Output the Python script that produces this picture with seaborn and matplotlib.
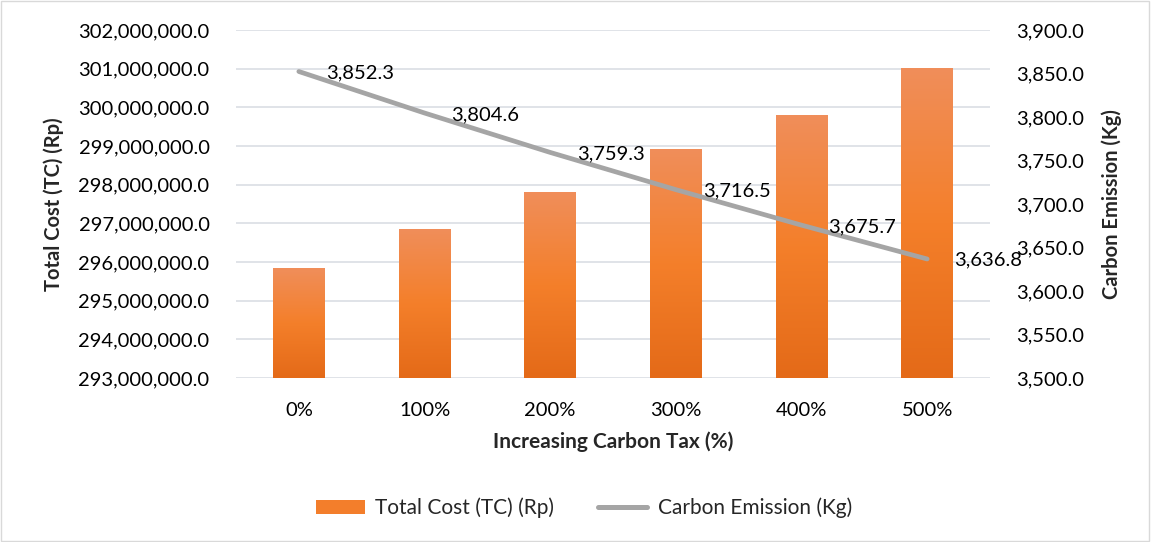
import numpy as np
import pandas as pd
import matplotlib
matplotlib.use("Agg")
import matplotlib.pyplot as plt
import seaborn as sns
from matplotlib.colors import LinearSegmentedColormap
from matplotlib.patches import Patch, Rectangle
from matplotlib.lines import Line2D
from matplotlib.ticker import FuncFormatter, MultipleLocator

categories = ["0%", "100%", "200%", "300%", "400%", "500%"]
total_cost = [295820000, 296830000, 297810000, 298920000, 299800000, 301010000]
carbon_emission = [3852.3, 3804.6, 3759.3, 3716.5, 3675.7, 3636.8]
emission_labels = ["3,852.3", "3,804.6", "3,759.3", "3,716.5", "3,675.7", "3,636.8"]

sns.set_theme(style="white")
plt.rcParams["font.family"] = ["Lato", "DejaVu Sans"]

FS = 14.5
FSB = 14.5
fig = plt.figure(figsize=(11.51, 5.42), dpi=100)
ax = fig.add_axes([236/1151, 1-378/542, (990-236)/1151, (378-30)/542])

df = pd.DataFrame({"cat": categories, "tc": total_cost, "ce": carbon_emission})

YMIN, YMAX = 293_000_000, 302_000_000
sns.barplot(data=df, x="cat", y="tc", ax=ax, color="#F37E2B", width=0.41,
            saturation=1, zorder=2)
ax.set_ylim(YMIN, YMAX)
ax.yaxis.set_major_locator(MultipleLocator(1_000_000))
ax.yaxis.set_major_formatter(FuncFormatter(lambda v, p: f"{v:,.1f}"))
ax.grid(axis="y", color="#DDE1E6", linewidth=1.3, zorder=0)
ax.set_axisbelow(True)

# gradient fill for bars (only the visible part above the axis floor)
cmap = LinearSegmentedColormap.from_list("og", ["#E46A18", "#F47F2A", "#F08E5A"])
grad = np.linspace(0, 1, 256).reshape(-1, 1)
for bar in ax.patches:
    x0 = bar.get_x()
    w = bar.get_width()
    top = bar.get_y() + bar.get_height()
    ax.imshow(grad, cmap=cmap, aspect="auto", origin="lower",
              extent=[x0, x0 + w, YMIN, top], zorder=2, interpolation="bilinear")
    bar.set_facecolor("none")
    bar.set_edgecolor("none")
ax.set_xlim(-0.5, 5.5)
ax.set_ylim(YMIN, YMAX)

ax2 = ax.twinx()
sns.lineplot(data=df, x="cat", y="ce", ax=ax2, color="#A5A5A5", linewidth=3.4,
             solid_capstyle="round", zorder=3, legend=False)
ax2.set_ylim(3500, 3900)
ax2.yaxis.set_major_locator(MultipleLocator(50))
ax2.yaxis.set_major_formatter(FuncFormatter(lambda v, p: f"{v:,.1f}"))
ax2.grid(False)
for c, v, lab in zip(categories, carbon_emission, emission_labels):
    ax2.annotate(lab, xy=(c, v), xytext=(19.5, -1), textcoords="offset points",
                 ha="left", va="center", fontsize=FS, color="#000000")

for a in (ax, ax2):
    for s in a.spines.values():
        s.set_visible(False)
    a.tick_params(axis="both", length=0, labelsize=FS, colors="#000000")

ax.tick_params(axis="y", pad=19)
ax2.tick_params(axis="y", pad=19)
ax.tick_params(axis="x", pad=17)

ax.set_xlabel("Increasing Carbon Tax (%)", fontsize=15, fontweight="bold", labelpad=9)
ax.set_ylabel("Total Cost (TC) (Rp)", fontsize=FSB, fontweight="bold", labelpad=10)
ax2.set_ylabel("Carbon Emission (Kg)", fontsize=FSB, fontweight="bold", labelpad=12)

handles = [Patch(facecolor="#F37E2B", edgecolor="none"),
           Line2D([0], [0], color="#A5A5A5", linewidth=3.6, solid_capstyle="round")]
fig.legend(handles, ["Total Cost (TC) (Rp)", "Carbon Emission (Kg)"],
           loc="center", bbox_to_anchor=(584/1151, 1-508/542), ncol=2,
           frameon=False, fontsize=15, handlelength=2.35, columnspacing=2.1,
           handletextpad=0.5)

fig.patches.append(Rectangle((0.001, 0.002), 0.997, 0.996, transform=fig.transFigure,
                             fill=False, edgecolor="#D9D9D9", linewidth=1))

fig.savefig("out.png", dpi=100)
